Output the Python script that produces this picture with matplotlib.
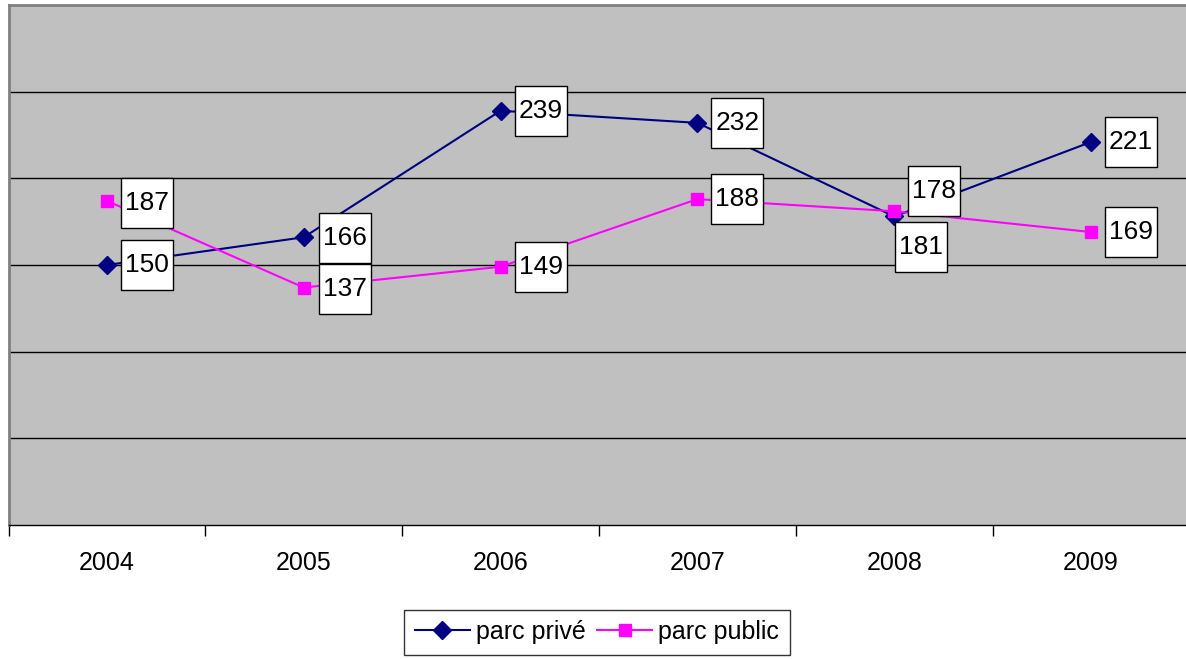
import matplotlib
matplotlib.use("Agg")
import matplotlib.pyplot as plt
from matplotlib.offsetbox import DrawingArea, AnnotationBbox
from matplotlib.patches import Rectangle
from matplotlib.text import Text
from matplotlib.lines import Line2D

plt.rcParams['font.family'] = ['Liberation Sans', 'DejaVu Sans']

years = ['2004', '2005', '2006', '2007', '2008', '2009']
prive = [150, 166, 239, 232, 178, 221]
public = [187, 137, 149, 188, 181, 169]

# label offsets in pixels (dx to box left edge, dy of box centre; +dy = up)
prive_off = [(14, 0), (15, -1), (14, 0), (14, 0), (14, 25), (14, 0)]
public_off = [(14, -2), (15, -1), (14, 0), (14, 0), (1, -36), (14, 0)]

DPI = 100
fig = plt.figure(figsize=(11.86, 6.59), dpi=DPI)
W, H = 1186, 659
left, right, top, bottom = 8.5, 1189.5, 5, 525
ax = fig.add_axes([left / W, 1 - bottom / H, (right - left) / W, (bottom - top) / H])
ax.set_facecolor('#C0C0C0')

x = [i + 0.5 for i in range(len(years))]
ax.set_xlim(0, 6)
ax.set_ylim(0, 300)

for v in [50, 100, 150, 200, 250]:
    ax.axhline(v, color='black', lw=1.0, zorder=1)

ax.plot(x, prive, color='#000080', lw=1.5, marker='D', ms=9, mfc='#000080',
        mec='#000080', zorder=3, label='parc privé')
ax.plot(x, public, color='#FF00FF', lw=1.5, marker='s', ms=8, mfc='#FF00FF',
        mec='#FF00FF', zorder=3, label='parc public')

px2pt = 72.0 / DPI
bw, bh = 52 * px2pt, 50 * px2pt


def add_label(xv, yv, txt, off):
    da = DrawingArea(bw, bh, 0, 0)
    da.add_artist(Rectangle((0, 0), bw, bh, facecolor='white', edgecolor='black', lw=1.0))
    da.add_artist(Text(bw / 2, bh / 2, txt, ha='center', va='center', fontsize=19,
                       family=['Liberation Sans', 'DejaVu Sans'], color='black'))
    ab = AnnotationBbox(da, (xv, yv), xybox=(off[0] * px2pt, off[1] * px2pt),
                        xycoords='data', boxcoords='offset points',
                        box_alignment=(0, 0.5), frameon=False, pad=0, zorder=5)
    ax.add_artist(ab)


for xi, v, o in zip(x, prive, prive_off):
    add_label(xi, v, str(v), o)
for xi, v, o in zip(x, public, public_off):
    add_label(xi, v, str(v), o)

for s in ['left', 'top']:
    ax.spines[s].set_color('#808080')
    ax.spines[s].set_linewidth(2)
ax.spines['right'].set_visible(False)
ax.spines['bottom'].set_color('black')
ax.spines['bottom'].set_linewidth(1.0)

ax.set_yticks([])
ax.set_xticks(range(7))
ax.set_xticklabels([])
ax.tick_params(axis='x', which='major', length=8, width=1, color='black', direction='out')
ax.set_xticks(x, minor=True)
ax.set_xticklabels(years, minor=True, fontsize=18)
ax.tick_params(axis='x', which='minor', length=0, pad=19)

handles = [
    Line2D([], [], color='#000080', lw=1.5, marker='D', ms=9, mfc='#000080', mec='#000080'),
    Line2D([], [], color='#FF00FF', lw=1.5, marker='s', ms=8, mfc='#FF00FF', mec='#FF00FF'),
]
leg = fig.legend(handles, ['parc privé', 'parc public'], loc='center',
                 bbox_to_anchor=(597 / W, 1 - 632 / H), ncol=2, fontsize=18,
                 frameon=True, fancybox=False, edgecolor='black', handlelength=2.2,
                 handletextpad=0.25, columnspacing=0.45, borderpad=0.42,
                 borderaxespad=0)
leg.get_frame().set_linewidth(1.0)

fig.savefig('out.png', dpi=DPI, facecolor='white')
